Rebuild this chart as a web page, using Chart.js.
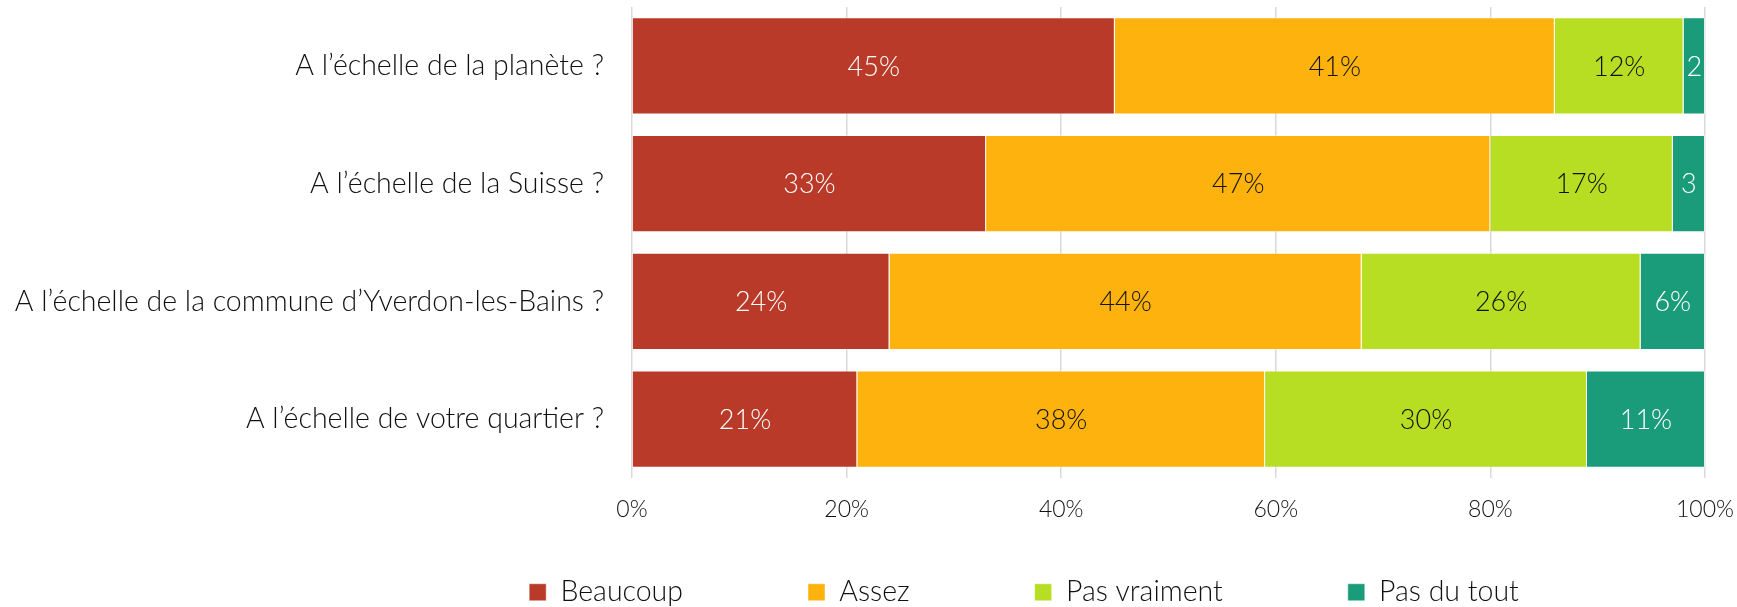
<!DOCTYPE html>
<html lang="fr">
<head>
<meta charset="utf-8">
<title>Préoccupation par échelle</title>
<script src="https://cdn.jsdelivr.net/npm/chart.js@4/dist/chart.umd.min.js"></script>
<style>
    html, body { margin: 0; padding: 0; background: #ffffff; }
    #wrap { width: 1737px; height: 607px; position: relative; }
</style>
</head>
<body>
<div id="wrap"><canvas id="chart"></canvas></div>
<script>
// Données (en %)
const categories = [
    "A l’échelle de la planète ?",
    "A l’échelle de la Suisse ?",
    "A l’échelle de la commune d’Yverdon-les-Bains ?",
    "A l’échelle de votre quartier ?"
];
const seriesNames = ["Beaucoup", "Assez", "Pas vraiment", "Pas du tout"];
const beaucoup = [45, 33, 24, 21];
const assez = [41, 47, 44, 38];
const pasVraiment = [12, 17, 26, 30];
const pasDuTout = [2, 3, 6, 11];
const xTicks = [0, 20, 40, 60, 80, 100];

const colors = ["#b93a28", "#feb20e", "#b7de22", "#1a9b7a"];
const labelColors = ["#ffffff", "#111111", "#111111", "#ffffff"];
const FONT = "Lato";

// Etiquettes de valeur au centre de chaque segment
const segmentLabels = {
    id: "segmentLabels",
    afterDatasetsDraw(chart) {
        const ctx = chart.ctx;
        ctx.save();
        ctx.font = "300 27px " + FONT;
        ctx.textAlign = "center";
        ctx.textBaseline = "middle";
        chart.data.datasets.forEach((ds, i) => {
            const meta = chart.getDatasetMeta(i);
            meta.data.forEach((bar, j) => {
                const p = bar.getProps(["x", "y", "base"], true);
                const w = Math.abs(p.x - p.base);
                let text = ds.data[j] + "%";
                if (ctx.measureText(text).width > w - 4) text = String(ds.data[j]);
                ctx.fillStyle = labelColors[i];
                ctx.fillText(text, (p.x + p.base) / 2, p.y + 1);
            });
        });
        ctx.restore();
    }
};

// La légende d'Excel a de larges écarts horizontaux mais peu de marge verticale,
// et elle n'est pas centrée sur la page
const legendRow = {
    id: "legendRow",
    afterLayout(chart) {
        const lg = chart.legend;
        if (!lg) return;
        lg.top += 56 - lg.options.labels.padding;
        lg.bottom = chart.height;
        const dx = 1024 - (lg.left + lg.right) / 2;
        lg.left += dx;
        lg.right += dx;
    }
};

new Chart(document.getElementById("chart"), {
    type: "bar",
    data: {
        labels: categories,
        datasets: [beaucoup, assez, pasVraiment, pasDuTout].map((values, i) => ({
            label: seriesNames[i],
            data: values,
            backgroundColor: colors[i],
            borderColor: "rgba(255,255,255,0.45)",
            borderWidth: 1,
            barPercentage: 0.824,
            categoryPercentage: 1
        }))
    },
    options: {
        indexAxis: "y",
        responsive: true,
        maintainAspectRatio: false,
        animation: false,
        layout: { padding: { left: 0, right: 32, top: 7, bottom: 0 } },
        scales: {
            x: {
                stacked: true,
                min: 0,
                max: 100,
                afterBuildTicks: scale => { scale.ticks = xTicks.map(v => ({ value: v })); },
                afterFit: scale => { scale.paddingLeft = 0; scale.paddingRight = 0; scale.height = 44; },
                grid: { color: "#d9d9d9", lineWidth: 1.5, drawTicks: false },
                border: { display: false },
                ticks: {
                    padding: 18,
                    color: "#111111",
                    font: { family: FONT, size: 23, weight: 300 },
                    callback: v => v + "%"
                }
            },
            y: {
                stacked: true,
                afterFit: scale => { scale.width = 632; scale.paddingTop = 0; scale.paddingBottom = 0; },
                grid: { display: false, drawTicks: false },
                border: { display: false },
                ticks: {
                    padding: 28,
                    color: "#111111",
                    font: { family: FONT, size: 28.5, weight: 300 }
                }
            }
        },
        plugins: {
            legend: {
                position: "bottom",
                maxHeight: 85,
                labels: {
                    boxWidth: 17,
                    boxHeight: 17,
                    padding: 125,
                    color: "#111111",
                    font: { family: FONT, size: 28.5, weight: 300 }
                }
            },
            tooltip: { enabled: false }
        }
    },
    plugins: [segmentLabels, legendRow]
});
</script>
</body>
</html>
